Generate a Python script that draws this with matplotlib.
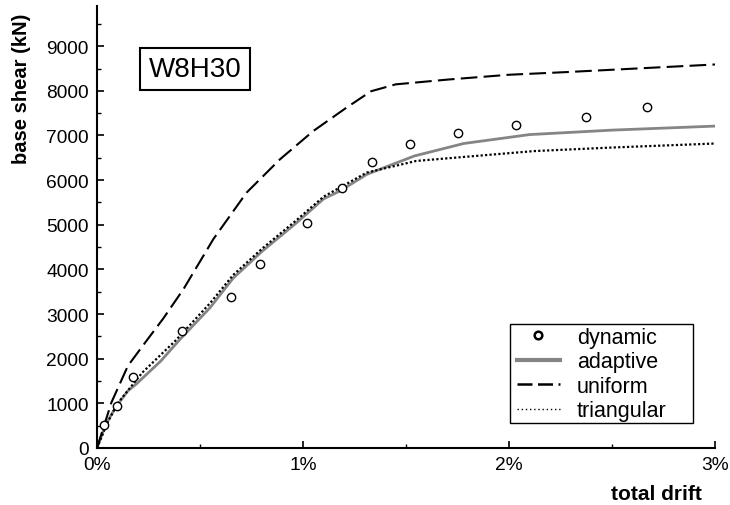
import matplotlib
matplotlib.use("Agg")
import matplotlib.pyplot as plt
from matplotlib.ticker import MultipleLocator, FuncFormatter
from matplotlib.lines import Line2D
from matplotlib.patches import Rectangle

plt.rcParams['font.family'] = ['Liberation Sans', 'DejaVu Sans']

# dynamic (time-history) points
dyn_x = [0.034, 0.096, 0.176, 0.411, 0.649, 0.793, 1.018, 1.188, 1.336, 1.521, 1.751, 2.034, 2.374, 2.671]
dyn_y = [510, 930, 1580, 2610, 3385, 4120, 5040, 5820, 6410, 6820, 7060, 7225, 7405, 7630]

# adaptive pushover
ada_x = [0, 0.04, 0.09, 0.15, 0.19, 0.31, 0.40, 0.55, 0.66, 0.80, 0.97, 1.10, 1.18, 1.31, 1.54, 1.78, 2.10, 2.5, 3.0]
ada_y = [0, 500, 910, 1280, 1430, 1950, 2420, 3150, 3800, 4400, 5050, 5580, 5760, 6130, 6540, 6820, 7020, 7120, 7210]

# uniform pushover
uni_x = [0, 0.07, 0.15, 0.24, 0.32, 0.42, 0.565, 0.726, 0.888, 1.05, 1.21, 1.33, 1.45, 1.71, 2.0, 2.28, 3.0]
uni_y = [0, 1020, 1840, 2400, 2890, 3560, 4680, 5720, 6465, 7100, 7620, 7990, 8145, 8255, 8360, 8420, 8590]

# triangular pushover
tri_x = [0, 0.05, 0.10, 0.22, 0.38, 0.55, 0.66, 0.80, 0.97, 1.10, 1.31, 1.55, 2.12, 2.5, 3.0]
tri_y = [0, 560, 1000, 1690, 2400, 3250, 3870, 4460, 5110, 5630, 6170, 6430, 6650, 6730, 6820]

labels = ['dynamic', 'adaptive', 'uniform', 'triangular']

W, H = 730, 506
fig = plt.figure(figsize=(W / 100, H / 100), dpi=100)
ax = fig.add_axes([97 / W, (H - 449) / H, (715 - 97) / W, (449 - 7) / H])

ax.plot(ada_x, ada_y, color='#858585', lw=2.0, zorder=2)
ax.plot(uni_x, uni_y, color='black', lw=1.5, ls=(0, (8, 3)), zorder=3)
ax.plot(tri_x, tri_y, color='black', lw=1.6, ls=(0, (1, 1)), zorder=3)
ax.plot(dyn_x, dyn_y, ls='none', marker='o', ms=6, mfc='white', mec='black', mew=1.0, zorder=4)

ax.set_xlim(0, 3)
ax.set_ylim(0, 9900)
ax.xaxis.set_major_locator(MultipleLocator(1))
ax.xaxis.set_minor_locator(MultipleLocator(0.5))
ax.yaxis.set_major_locator(MultipleLocator(1000))
ax.yaxis.set_minor_locator(MultipleLocator(500))
ax.xaxis.set_major_formatter(FuncFormatter(lambda v, p: f"{v:.0f}%"))
ax.yaxis.set_major_formatter(FuncFormatter(lambda v, p: f"{v:.0f}"))

for s in ['top', 'right']:
    ax.spines[s].set_visible(False)
for s in ['left', 'bottom']:
    ax.spines[s].set_linewidth(1.5)
ax.tick_params(which='major', direction='in', length=5, width=1.2, labelsize=13.8, pad=6)
ax.tick_params(which='minor', direction='in', length=3, width=1.0)

fig.text(22 / W, 1 - 89 / H, 'base shear (kN)', rotation=90, ha='center', va='center',
         fontsize=14.5, fontweight='bold')
fig.text(702 / W, 1 - 495 / H, 'total drift', ha='right', va='center',
         fontsize=15, fontweight='bold')

fig.text(195 / W, 1 - 70 / H, 'W8H30', ha='center', va='center', fontsize=20,
         bbox=dict(boxstyle='square,pad=0.3', fc='white', ec='black', lw=1.5))

# legend frame
fig.patches.append(Rectangle((509.5 / W, 1 - 423.5 / H), (692.5 - 509.5) / W, (423.5 - 324.5) / H,
                             transform=fig.transFigure, fc='white', ec='black', lw=1.0, zorder=5))

handles = [
    Line2D([], [], ls='none', marker='o', ms=5.5, mfc='white', mec='black', mew=1.8),
    Line2D([], [], color='#858585', lw=3.0),
    Line2D([], [], color='black', lw=1.8, ls=(0, (6.0, 2.2))),
    Line2D([], [], color='black', lw=1.0, ls=(0, (1, 2))),
]
leg = fig.legend(handles, labels, loc='center left',
                 bbox_to_anchor=(516.7 / W, 1 - 375.0 / H),
                 frameon=False, fontsize=15.5, handlelength=2.0,
                 handletextpad=0.79, borderpad=0, labelspacing=0.16, borderaxespad=0)
leg.set_zorder(6)

fig.savefig('out.png', dpi=100)
